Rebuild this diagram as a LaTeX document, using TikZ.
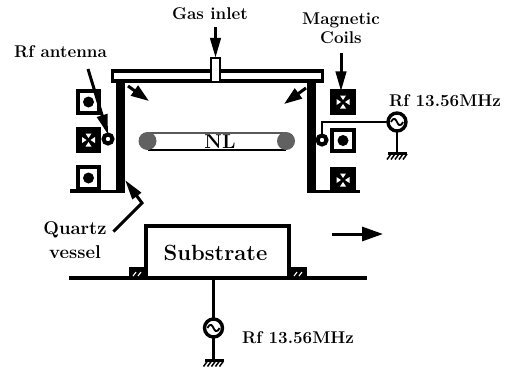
\documentclass[tikz,border=0pt]{standalone}
\usetikzlibrary{arrows.meta}
\tikzset{
 lab/.style={font=\fontsize{17}{19}\selectfont\bfseries,inner sep=0pt,align=center},
 coilbox/.style={draw=black,fill=white,line width=4pt,minimum size=21.5pt,inner sep=0pt,outer sep=0pt},
 coildot/.style={coilbox,path picture={\fill[black] (path picture bounding box.center) circle (5.5pt);}},
 coilx/.style={coilbox,fill=black,path picture={
   \coordinate (cc) at (path picture bounding box.center);
   \fill[white] ([shift={(-3,-6.5)}]cc) -- ([shift={(3,-6.5)}]cc) -- ([shift={(0,-2)}]cc) -- cycle;
   \fill[white] ([shift={(-3,6.5)}]cc) -- ([shift={(3,6.5)}]cc) -- ([shift={(0,2)}]cc) -- cycle;
   \fill[white] ([shift={(-6.5,-3)}]cc) -- ([shift={(-6.5,3)}]cc) -- ([shift={(-2,0)}]cc) -- cycle;
   \fill[white] ([shift={(6.5,-3)}]cc) -- ([shift={(6.5,3)}]cc) -- ([shift={(2,0)}]cc) -- cycle;
 }},
 antenna/.style={circle,draw=black,fill=white,line width=4pt,minimum size=9pt,inner sep=0pt,outer sep=0pt},
 source/.style={circle,draw=black,fill=white,line width=3.4pt,minimum size=18pt,inner sep=0pt,outer sep=0pt,
   path picture={\draw[black,line width=1.8pt] ([xshift=-6pt]path picture bounding box.center) .. controls +(3,-6) and +(-1,-2) .. (path picture bounding box.center) .. controls +(1,2) and +(-3,6) .. ([xshift=6pt]path picture bounding box.center);}},
 wire/.style={line width=2.2pt,draw=black},
 pointer/.style={draw=black,line width=3pt,-{Triangle[length=20pt,width=10.5pt]}},
 shortptr/.style={draw=black,line width=3pt,-{Triangle[length=18pt,width=12pt]}},
 wall/.style={fill=black},
 seal/.style={draw=black,fill=black,line width=0pt,minimum width=15pt,minimum height=10pt,inner sep=0pt,outer sep=0pt},
 tube/.style={circle,fill=black!62,minimum size=18pt,inner sep=0pt},
}
\newcommand{\groundat}[2]{%
  \fill[black] (#1-9,#2) rectangle (#1+10,#2+2.5);
  \foreach \k in {-6,-2,2,6,10}{\draw[black,line width=1.5pt] (\k+#1,#2+2) -- (\k+#1-4,#2+7.5);}}
\begin{document}
\begin{tikzpicture}[x=1pt,y=-1pt]
\useasboundingbox (0,0) rectangle (508,367);
% vessel
\fill[wall] (116,80) rectangle (125,192);
\fill[wall] (307,80) rectangle (316,193);
\fill[wall] (70,188.5) rectangle (90,193);
\fill[wall] (90,190) rectangle (125,193);
\fill[wall] (310,190) rectangle (360,193);
\node[draw=black,fill=white,line width=3.4pt,minimum width=210pt,minimum height=10pt,inner sep=0pt,outer sep=0pt,anchor=north west] (lid) at (112.3,71) {};
\node[draw=black,fill=white,line width=2.4pt,minimum width=9pt,minimum height=24.5pt,inner sep=0pt,outer sep=0pt] (inlet) at (215.5,70) {};
% coils
\node[coildot] (cl1) at (88.5,102) {};
\node[coilx] (cl2) at (88.5,140) {};
\node[coildot] (cl3) at (88.5,178) {};
\node[coilx] (cr1) at (343,102) {};
\node[coildot] (cr2) at (343,140.5) {};
\node[coilx] (cr3) at (343,180) {};
% antenna
\node[antenna] (al) at (108,139) {};
\node[antenna] (ar) at (322,140) {};
% plasma
\draw[black!65,line width=1.2pt] (148,133) -- (286,133);
\draw[black,line width=1.8pt] (148,150) -- (286,150);
\node[tube] (nll) at (147.5,141) {};
\node[tube] (nlr) at (286,141) {};
\node[lab,font=\fontsize{20}{22}\selectfont\bfseries] (nl) at (220,141.5) {NL};
% labels
\node[lab] (gas) at (210,14) {Gas inlet};
\node[lab] (rfa) at (60.5,52) {Rf antenna};
\node[lab] (mag) at (341,28.5) {Magnetic\\Coils};
\node[lab] (rf1) at (445,101) {Rf 13.56MHz};
\node[lab] (rf2) at (298,338) {Rf 13.56MHz};
\node[lab,font=\fontsize{18.5}{20}\selectfont\bfseries] (qv) at (75,240) {Quartz\\[4pt]vessel};
% pointers
\coordinate (gasS) at (215.5,27);
\coordinate (rfaS) at (88,69);
\coordinate (magS) at (341,53);
\coordinate (wlS) at (128,86);
\coordinate (wlE) at (149,101);
\coordinate (wrS) at (306,88);
\coordinate (wrE) at (284,104);
\draw[pointer] (gasS) -- (inlet.north);
\draw[pointer] (rfaS) -- (al.north);
\draw[pointer] (magS) -- (magS |- cr1.north);
\draw[shortptr] (wlS) -- (wlE);
\draw[shortptr] (wrS) -- (wrE);
\coordinate (qS) at (113.5,231.5);
\coordinate (qM) at (142,203);
\coordinate (qE) at (125,180);
\draw[pointer] (qS) -- (qM) -- (qE);
% substrate
\node[draw=black,fill=white,line width=4pt,minimum width=143pt,minimum height=52pt,inner sep=0pt,outer sep=0pt] (sub) at (217,251.5) {};
\node[lab,font=\fontsize{22}{24}\selectfont\bfseries] (subl) at (215.5,253) {Substrate};
\fill[black] (69,276) rectangle (367,280);
\node[seal,anchor=south east] (sl) at (144,277) {};
\node[seal,anchor=south west] (sr) at (291,277) {};
\draw[white,line width=1.1pt] (133,276) -- (136,272) (138,276) -- (141,272);
\draw[white,line width=1.1pt] (294,276) -- (297,272) (299,276) -- (302,272);
% transport arrow
\coordinate (trS) at (332,234);
\coordinate (trE) at (383,234);
\draw[draw=black,line width=3pt,-{Triangle[length=21pt,width=14pt]}] (trS) -- (trE);
% rf feeds
\node[source] (s1) at (397,122) {};
\node[source] (s2) at (213.5,328) {};
\coordinate (g1) at (397,152);
\coordinate (g2) at (213.5,359);
\coordinate (bus) at (213.5,279);
\coordinate (bend) at (322,122);
\draw[wire] (ar.north) -- (bend) -- (s1.west);
\draw[wire] (s1.south) -- (g1);
\draw[wire] (bus) -- (s2.north);
\draw[wire] (s2.south) -- (g2);
\groundat{397}{152}
\groundat{213.5}{359}
\end{tikzpicture}
\end{document}
